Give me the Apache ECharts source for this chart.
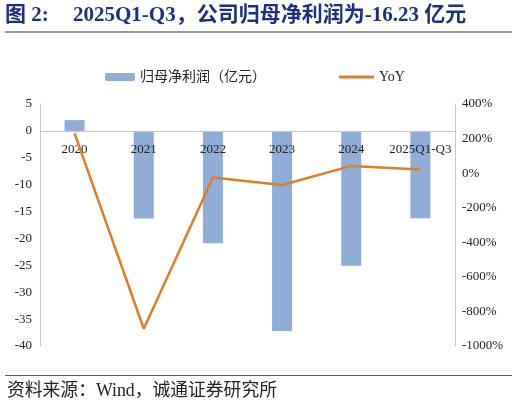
<!DOCTYPE html>
<html><head><meta charset="utf-8">
<script src="https://cdn.jsdelivr.net/npm/echarts@6/dist/echarts.min.js"></script>
<style>html,body{margin:0;padding:0;background:#fff}#c{width:518px;height:420px}</style>
</head><body><div id="c"></div>
<script>
var categories = ['2020','2021','2022','2023','2024','2025Q1-Q3'];
var netProfit = [2.0, -16.3, -20.9, -37.2, -25.1, -16.23];
var yoy = [230, -900, -25, -69, 42, 21];
var leftTicks = {min: -40, max: 5, interval: 5};
var rightTicks = {min: -1000, max: 400, interval: 200};

var gridTop = 104, gridBottom = 74, H = 420;
var gridH = H - gridTop - gridBottom;
// distance of the zero line above the grid bottom, derived from the left axis range
var zeroFromBottom = gridH * (0 - leftTicks.min) / (leftTicks.max - leftTicks.min);

var chart = echarts.init(document.getElementById('c'), null, {renderer: 'canvas'});
var serif = '"Liberation Serif","Times New Roman",serif';
var cjk = '"Liberation Serif","Noto Sans CJK SC",serif';
chart.setOption({
  animation: false,
  backgroundColor: '#fff',
  grid: {left: 40, right: 63, top: gridTop, bottom: gridBottom, containLabel: false},
  legend: [
    {data: ['归母净利润（亿元）'], left: 100, top: 65, itemWidth: 30, itemHeight: 8, itemGap: 6,
     textStyle: {fontFamily: cjk, fontSize: 14, color: '#222'}},
    {data: [{name: 'YoY', icon: 'path://M0,0L36,0L36,3L0,3Z'}], left: 334, top: 65, itemWidth: 35, itemHeight: 3, itemGap: 4,
     textStyle: {fontFamily: serif, fontSize: 14, color: '#222'}}
  ],
  xAxis: {
    type: 'category', data: categories, position: 'bottom', offset: -zeroFromBottom, z: 4,
    axisLine: {onZero: false, lineStyle: {color: '#cdc6b6', width: 1}},
    axisTick: {show: false},
    axisLabel: {fontFamily: serif, fontSize: 13, color: '#222', margin: 12, interval: 0}
  },
  yAxis: [
    {type: 'value', position: 'left', min: leftTicks.min, max: leftTicks.max, interval: leftTicks.interval,
     axisLine: {show: true, onZero: false, lineStyle: {color: '#c8c8c8'}}, axisTick: {show: false},
     splitLine: {show: false},
     axisLabel: {fontFamily: serif, fontSize: 13, color: '#222', margin: 8}},
    {type: 'value', position: 'right', min: rightTicks.min, max: rightTicks.max, interval: rightTicks.interval,
     axisLine: {show: true, onZero: false, lineStyle: {color: '#c8c8c8'}}, axisTick: {show: false},
     splitLine: {show: false},
     axisLabel: {fontFamily: serif, fontSize: 13, color: '#222', margin: 7,
       formatter: function (v) { return v + '%'; }}}
  ],
  series: [
    {name: '归母净利润（亿元）', type: 'bar', data: netProfit, barWidth: 20, yAxisIndex: 0,
     itemStyle: {color: '#8fadd6'}, z: 2},
    {name: 'YoY', type: 'line', data: yoy, yAxisIndex: 1, symbol: 'none',
     lineStyle: {color: '#e07d28', width: 2.5}, itemStyle: {color: '#e07d28'}, z: 6}
  ],
  graphic: [
    {type: 'text', left: 5, top: 5, style: {text: '图 2:', fontFamily: cjk, fontWeight: 'bold', fontSize: 21, fill: '#1f2f80'}},
    {type: 'text', left: 73, top: 5, style: {text: '2025Q1-Q3，公司归母净利润为-16.23 亿元', fontFamily: cjk, fontWeight: 'bold', fontSize: 21, fill: '#1f2f80'}},
    {type: 'line', shape: {x1: 5, y1: 32, x2: 512, y2: 32}, style: {stroke: '#777', lineWidth: 1.5}},
    {type: 'line', shape: {x1: 5, y1: 375.5, x2: 512, y2: 375.5}, style: {stroke: '#555', lineWidth: 1}},
    {type: 'text', left: 7, top: 382, style: {text: '资料来源：Wind，诚通证券研究所', fontFamily: cjk, fontSize: 17.8, fill: '#222'}}
  ]
});
</script></body></html>
